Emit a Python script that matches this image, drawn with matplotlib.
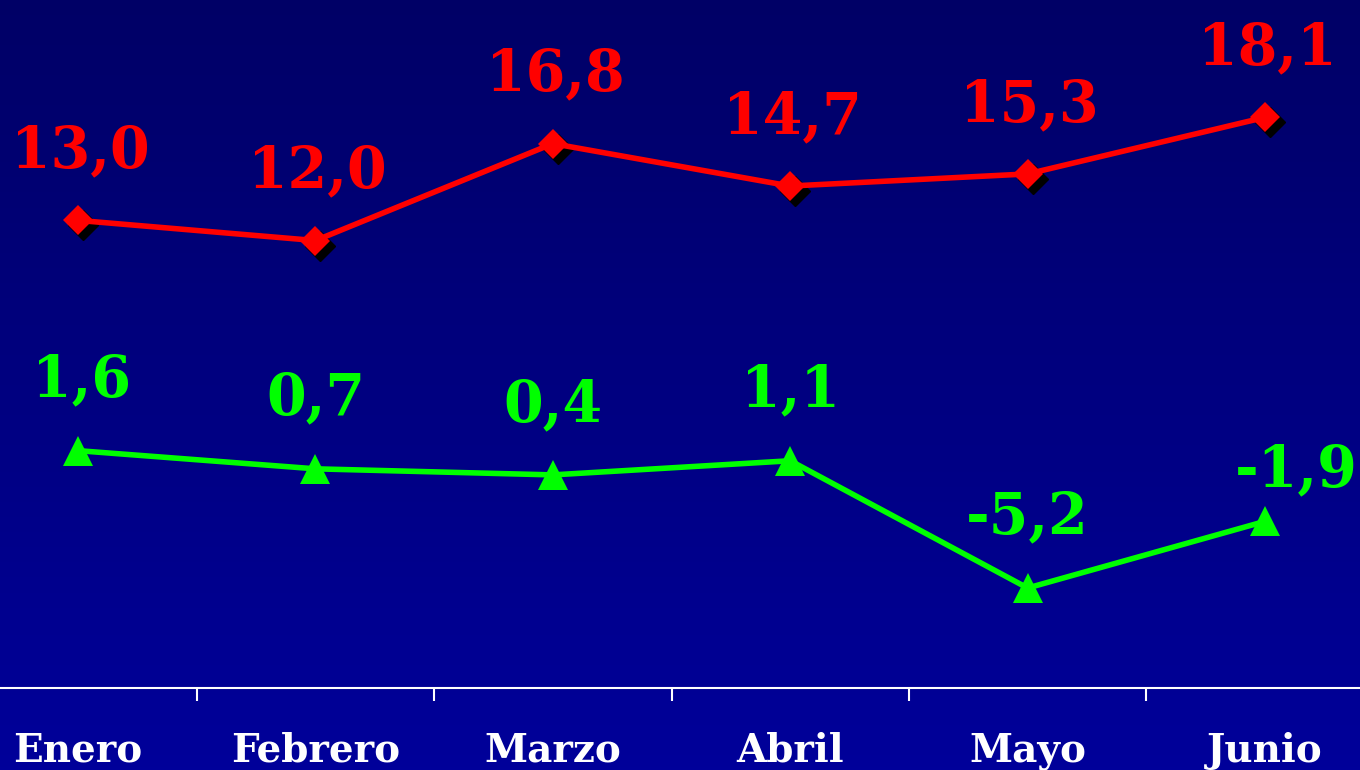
import numpy as np
import matplotlib
matplotlib.use("Agg")
import matplotlib.pyplot as plt
from matplotlib.transforms import offset_copy, blended_transform_factory

months = ["Enero", "Febrero", "Marzo", "Abril", "Mayo", "Junio"]
serie_roja = [13.0, 12.0, 16.8, 14.7, 15.3, 18.1]
serie_verde = [1.6, 0.7, 0.4, 1.1, -5.2, -1.9]
etiquetas_roja = ["13,0", "12,0", "16,8", "14,7", "15,3", "18,1"]
etiquetas_verde = ["1,6", "0,7", "0,4", "1,1", "-5,2", "-1,9"]

RED = "#FF0000"
GREEN = "#00FF00"
FONT = "DejaVu Serif"

fig = plt.figure(figsize=(13.6, 7.7), dpi=100)

# background gradient
bg = fig.add_axes([0, 0, 1, 1])
grad = np.linspace(0, 1, 256).reshape(-1, 1)
top = np.array([0x00, 0x00, 0x66]) / 255
bot = np.array([0x00, 0x00, 0x9A]) / 255
img = top[None, None, :] * (1 - grad[:, :, None]) + bot[None, None, :] * grad[:, :, None]
bg.imshow(img, aspect="auto", extent=[0, 1, 0, 1], origin="upper")
bg.set_axis_off()

ax = fig.add_axes([0, 82 / 770, 1, 1 - 82 / 770])
ax.patch.set_alpha(0)
x = np.arange(len(months))
ax.set_xlim(-0.3286, 5.400)
ax.set_ylim(-10.15, 23.91)

# shadows for diamonds
shadow = offset_copy(ax.transData, fig=fig, x=5, y=-5, units="dots")
ax.plot(x, serie_roja, linestyle="none", marker="D", markersize=15, color="black",
        transform=shadow, zorder=2)
ax.plot(x, serie_roja, color=RED, linewidth=4.0, marker="D", markersize=15,
        markeredgewidth=0, zorder=3)
ax.plot(x, serie_verde, color=GREEN, linewidth=4.0, marker="^", markersize=22,
        markeredgewidth=0, zorder=3)

for xi, v, t in zip(x, serie_roja, etiquetas_roja):
    ax.annotate(t, (xi, v), xytext=(2, 53), textcoords="offset pixels",
                ha="center", va="baseline", color=RED, fontsize=41,
                fontweight="bold", family=FONT, zorder=4)

green_offsets = [(3, 54), (0, 54), (0, 54), (0, 54), (0, 55), (31, 35)]
for xi, v, t, off in zip(x, serie_verde, etiquetas_verde, green_offsets):
    ax.annotate(t, (xi, v), xytext=off, textcoords="offset pixels",
                ha="center", va="baseline", color=GREEN, fontsize=41,
                fontweight="bold", family=FONT, zorder=4)

for s in ["top", "right", "left"]:
    ax.spines[s].set_visible(False)
ax.spines["bottom"].set_color("white")
ax.spines["bottom"].set_linewidth(1.5)
ax.set_yticks([])
ax.set_xticks(x[:-1] + 0.5)
ax.set_xticklabels([])
ax.tick_params(axis="x", direction="out", length=9, width=1.5, color="white")

tr = blended_transform_factory(ax.transData, fig.transFigure)
for xi, m in zip(x, months):
    ax.text(xi, 8 / 770, m, transform=tr, ha="center", va="baseline",
            color="white", fontsize=28, fontweight="bold", family=FONT,
            clip_on=False)

fig.savefig("out.png", dpi=100)
